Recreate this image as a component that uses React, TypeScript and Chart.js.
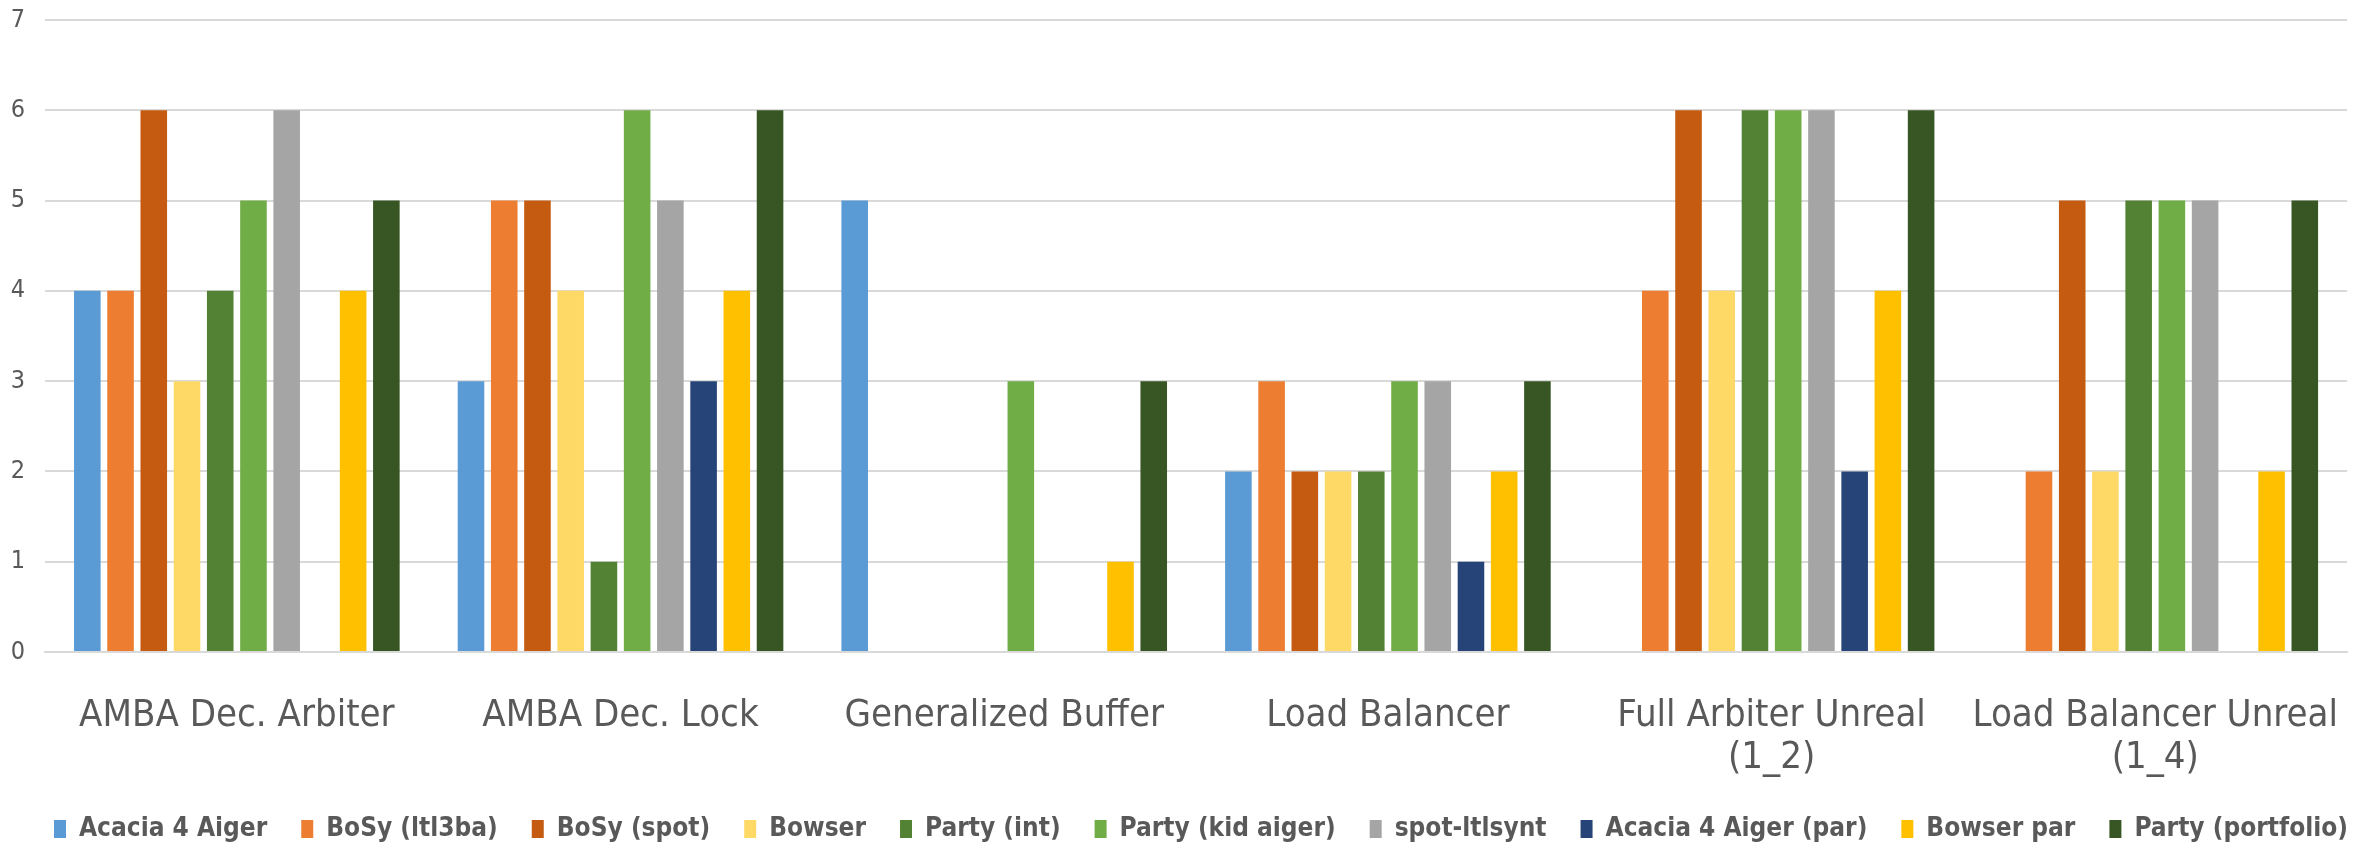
import React, { useEffect, useRef } from "react";
import { Chart, registerables } from "chart.js";

Chart.register(...registerables);

const categories: (string | string[])[] = [
  "AMBA Dec. Arbiter",
  "AMBA Dec. Lock",
  "Generalized Buffer",
  "Load Balancer",
  ["Full Arbiter Unreal", "(1_2)"],
  ["Load Balancer Unreal", "(1_4)"],
];

const seriesNames = [
  "Acacia 4 Aiger",
  "BoSy (ltl3ba)",
  "BoSy (spot)",
  "Bowser",
  "Party (int)",
  "Party (kid aiger)",
  "spot-ltlsynt",
  "Acacia 4 Aiger (par)",
  "Bowser par",
  "Party (portfolio)",
];

const seriesColors = [
  "#5B9BD5",
  "#ED7D31",
  "#C55A11",
  "#FFD966",
  "#548235",
  "#70AD47",
  "#A5A5A5",
  "#264478",
  "#FFC000",
  "#375623",
];

const acacia = [4, 3, 5, 2, 0, 0];
const bosyLtl3ba = [4, 5, 0, 3, 4, 2];
const bosySpot = [6, 5, 0, 2, 6, 5];
const bowser = [3, 4, 0, 2, 4, 2];
const partyInt = [4, 1, 0, 2, 6, 5];
const partyKid = [5, 6, 3, 3, 6, 5];
const spotLtlsynt = [6, 5, 0, 3, 6, 5];
const acaciaPar = [0, 3, 0, 1, 2, 0];
const bowserPar = [4, 4, 1, 2, 4, 2];
const partyPortfolio = [5, 6, 3, 3, 6, 5];

const seriesValues = [
  acacia,
  bosyLtl3ba,
  bosySpot,
  bowser,
  partyInt,
  partyKid,
  spotLtlsynt,
  acaciaPar,
  bowserPar,
  partyPortfolio,
];

const yTicks = [0, 1, 2, 3, 4, 5, 6, 7];

const FONT = "'DejaVu Sans Condensed', 'DejaVu Sans', sans-serif";

const legendShift = {
  id: "legendShift",
  afterLayout(chart: any) {
    if (chart.legend) {
      chart.legend.left += 20;
      chart.legend.right += 20;
    }
  },
};

export default function App() {
  const ref = useRef<HTMLCanvasElement>(null);

  useEffect(() => {
    document.body.style.margin = "0";
    const ctx = ref.current!;
    const chart = new Chart(ctx, {
      type: "bar",
      data: {
        labels: categories,
        datasets: seriesNames.map((name, i) => ({
          label: name,
          data: seriesValues[i],
          backgroundColor: seriesColors[i],
          borderWidth: 0,
          categoryPercentage: 0.866,
          barPercentage: 0.8,
        })),
      },
      plugins: [legendShift],
      options: {
        animation: false,
        responsive: false,
        maintainAspectRatio: false,
        layout: { padding: { top: 20, right: 12, left: 0, bottom: -10 } },
        plugins: {
          tooltip: { enabled: false },
          legend: {
            position: "bottom",
            labels: {
              color: "#595959",
              font: { family: FONT, size: 26, weight: "bold" },
              boxWidth: 12,
              boxHeight: 18,
              padding: 34,
            },
          },
        },
        scales: {
          x: {
            grid: { display: false },
            border: { color: "#D9D9D9", width: 2 },
            afterFit: (scale: any) => {
              scale.height = 130;
            },
            ticks: {
              color: "#595959",
              font: { family: FONT, size: 38, lineHeight: 1.1 },
              maxRotation: 0,
              autoSkip: false,
              padding: 35,
            },
          },
          y: {
            min: 0,
            max: 7,
            afterBuildTicks: (scale: any) => {
              scale.ticks = yTicks.map((v) => ({ value: v }));
            },
            afterFit: (scale: any) => {
              scale.width = 45;
              scale.paddingTop = 0;
              scale.paddingBottom = 0;
            },
            grid: { color: "#D9D9D9", lineWidth: 2, drawTicks: false },
            border: { display: false },
            ticks: {
              color: "#595959",
              font: { family: FONT, size: 25 },
              padding: 20,
              align: "center",
            },
          },
        },
      },
    } as any);
    return () => chart.destroy();
  }, []);

  return (
    <div style={{ position: "absolute", left: 0, top: 0, width: 2374, height: 842 }}>
      <canvas ref={ref} width={2374} height={842} style={{ width: 2374, height: 842 }} />
    </div>
  );
}
